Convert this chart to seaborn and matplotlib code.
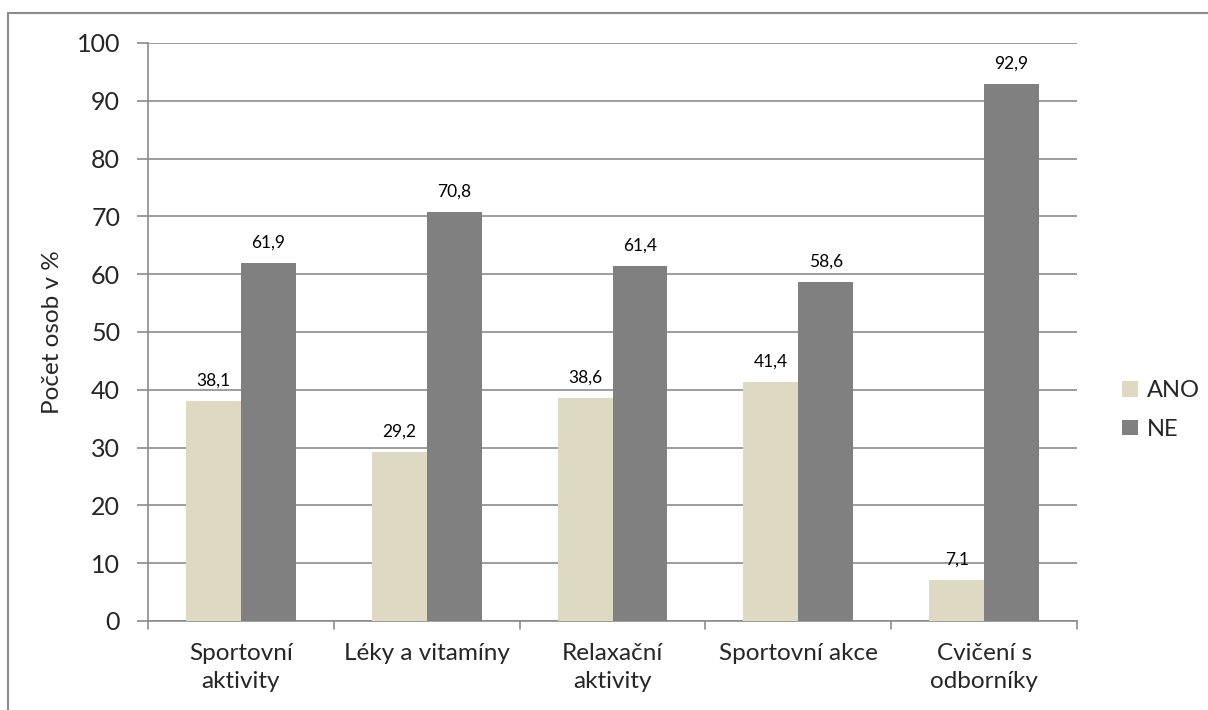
import matplotlib
matplotlib.use("Agg")
import matplotlib.pyplot as plt
import seaborn as sns
import pandas as pd
from matplotlib.patches import Rectangle
from matplotlib.lines import Line2D

categories = ["Sportovní\naktivity", "Léky a vitamíny", "Relaxační\naktivity", "Sportovní akce", "Cvičení s\nodborníky"]
series_names = ["ANO", "NE"]
ano_values = [38.1, 29.2, 38.6, 41.4, 7.1]
ne_values = [61.9, 70.8, 61.4, 58.6, 92.9]
yticks = [0, 10, 20, 30, 40, 50, 60, 70, 80, 90, 100]
ylabel = "Počet osob v %"

colors = {"ANO": "#DDD9C3", "NE": "#808080"}

df = pd.DataFrame({
    "cat": categories * 2,
    "series": ["ANO"] * len(categories) + ["NE"] * len(categories),
    "value": ano_values + ne_values,
})

sns.set_theme(style="white")
plt.rcParams["font.family"] = ["Lato", "DejaVu Sans"]

fig = plt.figure(figsize=(12.08, 7.10), dpi=100)
ax = fig.add_axes([148/1208, 1 - 621/710, (1077-148)/1208, (621-43)/710])

sns.barplot(data=df, x="cat", y="value", hue="series", palette=colors,
            width=0.59, ax=ax, saturation=1, legend=False, zorder=3)
for p in ax.patches:
    p.set_edgecolor("none")

for cont in ax.containers:
    ax.bar_label(cont, labels=[f"{v:.1f}".replace(".", ",") for v in cont.datavalues],
                 padding=9, fontsize=12.5, color="#000000")

ax.set_ylim(0, 100)
ax.set_xlim(-0.5, len(categories) - 0.5)
ax.set_yticks(yticks)
ax.set_yticklabels([str(t) for t in yticks], fontsize=18)
ax.set_xticks(range(len(categories)))
ax.set_xticklabels(categories, fontsize=17.5, linespacing=1.4)
ax.set_xlabel("")
ax.set_ylabel(ylabel, fontsize=17.5, labelpad=10)
ax.yaxis.grid(True, color="#8C8C8C", linewidth=1.2, zorder=0)
ax.set_axisbelow(True)

for s in ["top", "right"]:
    ax.spines[s].set_visible(False)
for s in ["left", "bottom"]:
    ax.spines[s].set_color("#8C8C8C")
    ax.spines[s].set_linewidth(1.2)

ax.tick_params(axis="y", length=8, width=1.2, color="#8C8C8C", direction="out", left=True, pad=12)
ax.tick_params(axis="x", length=0, pad=16)
# category separator ticks
for xs in [i - 0.5 for i in range(len(categories) + 1)]:
    ax.plot([xs, xs], [0, -1.4], color="#8C8C8C", lw=1.2, clip_on=False, zorder=4)

handles = [Rectangle((0, 0), 1, 1, facecolor=colors[n], edgecolor="none") for n in series_names]
fig.legend(handles, series_names, loc="center left", bbox_to_anchor=(1101/1208, 1 - 410/710),
           frameon=False, fontsize=17, handlelength=0.65, handleheight=0.65,
           handletextpad=0.4, labelspacing=0.75)

# outer chart border
fig.add_artist(Line2D([8/1208, 8/1208], [0, 1 - 13/710], transform=fig.transFigure, color="#8C8C8C", lw=1.5))
fig.add_artist(Line2D([8/1208, 1], [1 - 13/710, 1 - 13/710], transform=fig.transFigure, color="#8C8C8C", lw=1.5))

fig.savefig("out.png", dpi=100, facecolor="white")
